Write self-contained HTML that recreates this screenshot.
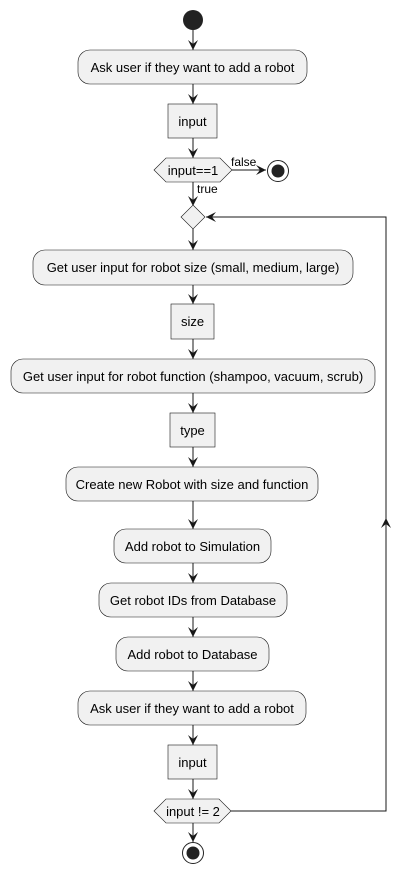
<!DOCTYPE html>
<html><head><style>body{margin:0;background:#fff}svg{display:block}</style></head><body>
<svg width="411" height="875" xmlns="http://www.w3.org/2000/svg" font-family="Liberation Sans, DejaVu Sans, sans-serif" font-size="13" fill="#000">
<defs><marker id="a" viewBox="0 0 10 10" refX="10" refY="5" markerWidth="10" markerHeight="10" orient="auto" markerUnits="userSpaceOnUse"><path d="M0,0 L10,5 L0,10 L4,5 Z" fill="#181818"/></marker></defs>
<g stroke="#181818" stroke-width="1" fill="none">
<line x1="193" y1="30" x2="193" y2="50" marker-end="url(#a)"/>
<line x1="193" y1="84" x2="193" y2="104" marker-end="url(#a)"/>
<line x1="193" y1="138" x2="193" y2="158" marker-end="url(#a)"/>
<line x1="232" y1="170" x2="266" y2="170" marker-end="url(#a)"/>
<line x1="193" y1="182" x2="193" y2="206" marker-end="url(#a)"/>
<line x1="193" y1="229" x2="193" y2="250" marker-end="url(#a)"/>
<line x1="193" y1="285" x2="193" y2="304" marker-end="url(#a)"/>
<line x1="193" y1="339" x2="193" y2="359" marker-end="url(#a)"/>
<line x1="193" y1="393" x2="193" y2="413" marker-end="url(#a)"/>
<line x1="193" y1="447" x2="193" y2="467" marker-end="url(#a)"/>
<line x1="193" y1="501" x2="193" y2="529" marker-end="url(#a)"/>
<line x1="193" y1="563" x2="193" y2="583" marker-end="url(#a)"/>
<line x1="193" y1="617" x2="193" y2="637" marker-end="url(#a)"/>
<line x1="193" y1="671" x2="193" y2="691" marker-end="url(#a)"/>
<line x1="193" y1="725" x2="193" y2="745" marker-end="url(#a)"/>
<line x1="193" y1="779" x2="193" y2="799" marker-end="url(#a)"/>
<line x1="193" y1="823" x2="193" y2="842" marker-end="url(#a)"/>
<polyline points="231,811 386,811 386,217 206,217" marker-end="url(#a)"/>
<line x1="386" y1="530" x2="386" y2="518" marker-end="url(#a)"/>
</g>
<circle cx="193" cy="20" r="10" fill="#222"/>
<g fill="#f1f1f1" stroke="#181818" stroke-width="0.6">
<rect x="78" y="50" width="229" height="34" rx="12"/>
<rect x="168" y="104" width="49" height="34"/>
<polygon points="154,170 166,158 220,158 232,170 220,182 166,182"/>
<polygon points="193,205 205,217 193,229 181,217"/>
<rect x="33" y="250" width="320" height="35" rx="12"/>
<rect x="171" y="304" width="43" height="35"/>
<rect x="11" y="359" width="364" height="34" rx="12"/>
<rect x="170" y="413" width="45" height="34"/>
<rect x="66" y="467" width="252" height="34" rx="12"/>
<rect x="114" y="529" width="157" height="34" rx="12"/>
<rect x="99" y="583" width="188" height="34" rx="12"/>
<rect x="116" y="637" width="153" height="34" rx="12"/>
<rect x="78" y="691" width="228" height="34" rx="12"/>
<rect x="168" y="745" width="49" height="34"/>
<polygon points="154,811 166,799 219,799 231,811 219,823 166,823"/>
</g>
<circle cx="278" cy="171" r="10.5" fill="#fff" stroke="#222" stroke-width="1"/><circle cx="278" cy="171" r="6.5" fill="#222"/>
<circle cx="193" cy="853" r="10.5" fill="#fff" stroke="#222" stroke-width="1"/><circle cx="193" cy="853" r="6.5" fill="#222"/>
<g text-anchor="middle">
<text x="192.5" y="72">Ask user if they want to add a robot</text>
<text x="192.5" y="126">input</text>
<text x="193" y="175">input==1</text>
<text x="193" y="272">Get user input for robot size (small, medium, large)</text>
<text x="192.5" y="326">size</text>
<text x="193" y="381">Get user input for robot function (shampoo, vacuum, scrub)</text>
<text x="192.5" y="435">type</text>
<text x="192" y="489">Create new Robot with size and function</text>
<text x="192.5" y="551">Add robot to Simulation</text>
<text x="193" y="605">Get robot IDs from Database</text>
<text x="192.5" y="659">Add robot to Database</text>
<text x="192" y="713">Ask user if they want to add a robot</text>
<text x="192.5" y="767">input</text>
<text x="193" y="816">input != 2</text>
</g>
<text x="231" y="166" font-size="12">false</text>
<text x="197" y="193" font-size="12">true</text>
</svg>
</body></html>
